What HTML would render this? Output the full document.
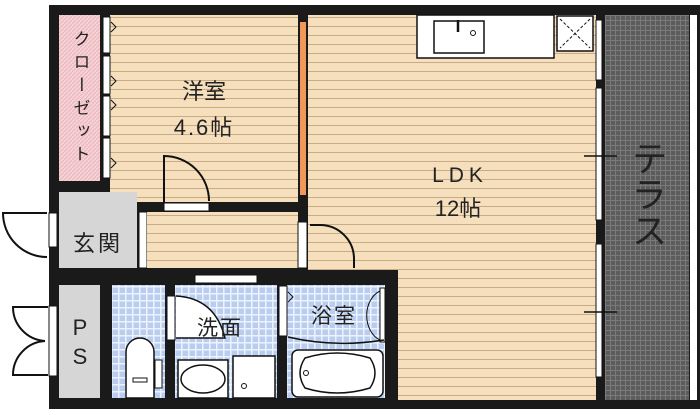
<!DOCTYPE html>
<html><head><meta charset="utf-8"><style>
html,body{margin:0;padding:0;background:#fff;width:700px;height:415px;overflow:hidden}
svg{display:block}
text{font-family:"Liberation Sans","Noto Sans CJK JP",sans-serif;fill:#222}
</style></head><body>
<svg width="700" height="415" viewBox="0 0 700 415" xmlns="http://www.w3.org/2000/svg">
<defs>
<pattern id="wood" width="10" height="9" patternUnits="userSpaceOnUse">
<rect width="10" height="9" fill="#f6dfbd"/><line x1="0" y1="8.5" x2="10" y2="8.5" stroke="#c9ab86" stroke-width="1"/>
</pattern>
<pattern id="tile" width="7" height="7" patternUnits="userSpaceOnUse">
<rect width="7" height="7" fill="#eef3fb"/><rect x="0.5" y="0.5" width="5.5" height="5.5" fill="#b9cdf0"/>
</pattern>
<pattern id="dgrid" width="5" height="5" patternUnits="userSpaceOnUse">
<rect width="5" height="5" fill="#5c5c5c"/><path d="M0 0.5H5M0.5 0V5" stroke="#7a7a7a" stroke-width="1"/>
</pattern>
<pattern id="pink" width="4" height="4" patternUnits="userSpaceOnUse">
<rect width="4" height="4" fill="#f5d0d4"/><path d="M0 4L4 0" stroke="#e9b6bc" stroke-width="1"/>
</pattern>
</defs>
<rect width="700" height="415" fill="#fff"/>
<rect x="49" y="5" width="550" height="404" fill="#1a1a1a"/>
<rect x="598" y="5" width="102" height="404" fill="#1a1a1a"/>
<rect x="605" y="15" width="84" height="385" fill="url(#dgrid)"/>
<rect x="690" y="15" width="7" height="385" fill="#fff"/>
<rect x="308" y="15" width="288" height="255" fill="url(#wood)"/>
<rect x="398" y="270" width="198" height="130" fill="url(#wood)"/>
<rect x="59" y="270" width="339" height="15" fill="#1a1a1a"/>
<rect x="385" y="275" width="13" height="125" fill="#1a1a1a"/>
<rect x="110" y="15" width="188" height="187" fill="url(#wood)"/>
<rect x="300" y="22" width="6" height="173" fill="#f0975a"/>
<rect x="59" y="15" width="41" height="166" fill="url(#pink)"/>
<rect x="103" y="17" width="7" height="36" fill="#fff" stroke="#111" stroke-width="1"/>
<rect x="103" y="56" width="7" height="38" fill="#fff" stroke="#111" stroke-width="1"/>
<rect x="103" y="96" width="7" height="40" fill="#fff" stroke="#111" stroke-width="1"/>
<rect x="103" y="138" width="7" height="40" fill="#fff" stroke="#111" stroke-width="1"/>
<path d="M111 22l5 5-5 5M111 76l5 5-5 5M111 100l5 5-5 5M111 158l5 5-5 5" fill="none" stroke="#111"/>
<rect x="59" y="192" width="78" height="76" fill="#d6d6d6"/>
<rect x="139" y="212" width="8" height="56" fill="#fff" stroke="#111"/>
<rect x="147" y="212" width="151" height="56" fill="url(#wood)"/>
<rect x="298" y="222" width="9" height="46" fill="#fff" stroke="#111"/>
<rect x="164" y="203" width="45" height="8" fill="#fff" stroke="#111"/>
<path d="M164 203V156A45 45 0 0 1 209 201" fill="none" stroke="#111" stroke-width="2"/>
<path d="M310 225H320A34 34 0 0 1 354 259V268" fill="none" stroke="#111" stroke-width="2"/>
<rect x="49" y="213" width="8" height="34" fill="#fff" stroke="#111"/>
<path d="M47 213H3A44 44 0 0 0 47 257" fill="none" stroke="#111" stroke-width="2"/>
<rect x="59" y="285" width="41" height="113" fill="#d6d6d6"/>
<rect x="49" y="306" width="8" height="70" fill="#fff" stroke="#111"/>
<path d="M48 307H13A34 34 0 0 0 45 341" fill="none" stroke="#111" stroke-width="2"/>
<path d="M48 375H13A34 34 0 0 1 45 341" fill="none" stroke="#111" stroke-width="2"/>
<rect x="195" y="275" width="62" height="8" fill="#fff" stroke="#111"/>
<rect x="112" y="285" width="53" height="113" fill="url(#tile)"/>
<rect x="155" y="360" width="7" height="28" fill="#fff" stroke="#111"/>
<path d="M126 398V352A14 14 0 0 1 154 352V398Z" fill="#fff" stroke="#111" stroke-width="1.5"/>
<rect x="133" y="378" width="14" height="4" fill="#fff" stroke="#111"/>
<rect x="175" y="285" width="102" height="113" fill="url(#tile)"/>
<rect x="167" y="296" width="8" height="44" fill="#fff" stroke="#111"/>
<path d="M176 296Q215 298 225 338H176" fill="#fff" stroke="#111" stroke-width="1.5"/>
<rect x="178" y="360" width="50" height="38" fill="#fff" stroke="#111" stroke-width="1.5"/>
<ellipse cx="203" cy="379" rx="22" ry="14" fill="#fff" stroke="#111" stroke-width="1.5"/>
<rect x="233" y="356" width="42" height="42" fill="#fff" stroke="#111" stroke-width="1.5"/>
<circle cx="244" cy="386" r="2.5" fill="none" stroke="#111"/>
<rect x="287" y="285" width="98" height="113" fill="url(#tile)"/>
<rect x="279" y="286" width="8" height="50" fill="#fff" stroke="#111"/>
<path d="M288 292l5 5-5 5" fill="none" stroke="#111"/>
<rect x="380" y="288" width="5" height="54" fill="#fff" stroke="#111"/>
<path d="M380 291A20 26 0 0 0 380 340" fill="none" stroke="#111"/>
<path d="M288 337Q335 348 384 340" fill="none" stroke="#111" stroke-width="1.5"/>
<rect x="292" y="350" width="91" height="47" rx="6" fill="#fff" stroke="#111" stroke-width="1.5"/>
<path d="M305 358Q337 348 370 358Q380 373 370 388Q337 398 305 388Q295 373 305 358Z" fill="#fff" stroke="#111" stroke-width="1.5"/>
<circle cx="306" cy="373" r="2.5" fill="none" stroke="#111"/>
<rect x="417" y="15" width="137" height="43" fill="#fff" stroke="#111" stroke-width="1.5"/>
<rect x="434" y="21" width="50" height="32" fill="#fff" stroke="#111" stroke-width="1.5"/>
<path d="M458 20v12" stroke="#111" stroke-width="2.5"/>
<circle cx="473" cy="33" r="2.5" fill="none" stroke="#111"/>
<rect x="557" y="16" width="36" height="35" fill="#fff" stroke="#111" stroke-width="1.5"/>
<path d="M560 19L590 48M590 19L560 48" stroke="#111" stroke-dasharray="3 2"/>
<rect x="596" y="20" width="6" height="60" fill="#fff" stroke="#111"/>
<rect x="596" y="88" width="6" height="132" fill="#fff" stroke="#111"/>
<rect x="596" y="244" width="6" height="133" fill="#fff" stroke="#111"/>
<path d="M584 156H617M584 312H617" stroke="#111" stroke-width="1.5"/>
<text x="80" y="30" font-size="17" letter-spacing="6" style="writing-mode:vertical-rl">クローゼット</text>
<text x="204" y="99" font-size="22" text-anchor="middle">洋室</text>
<text x="204" y="135" font-size="22" text-anchor="middle" letter-spacing="2">4.6帖</text>
<text x="98" y="251" font-size="22" text-anchor="middle" letter-spacing="3">玄関</text>
<text x="80" y="335" font-size="22" text-anchor="middle">P</text>
<text x="80" y="364" font-size="22" text-anchor="middle">S</text>
<text x="220" y="335" font-size="21" text-anchor="middle" letter-spacing="2">洗面</text>
<text x="334" y="323" font-size="21" text-anchor="middle" letter-spacing="2">浴室</text>
<text x="460" y="182" font-size="21" text-anchor="middle" letter-spacing="5">LDK</text>
<text x="458" y="216" font-size="22" text-anchor="middle">12帖</text>
<text x="647" y="140" font-size="36" style="writing-mode:vertical-rl" fill="#111">テラス</text>
</svg>
</body></html>
